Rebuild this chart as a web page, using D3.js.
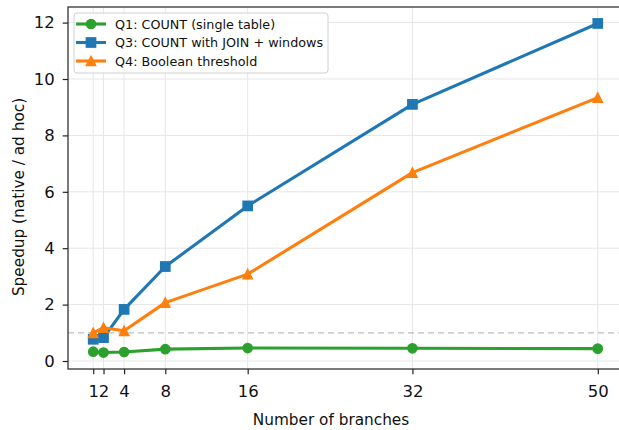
<!DOCTYPE html>
<html>
<head>
<meta charset="utf-8">
<script src="https://cdn.jsdelivr.net/npm/d3@7"></script>
<style>
  body { margin: 0; background: #fff; }
  svg { font-family: "DejaVu Sans", sans-serif; }
</style>
</head>
<body>
<div id="chart"></div>
<script>
// data
const branches = [1, 2, 4, 8, 16, 32, 50];
const q1Count = [0.33, 0.30, 0.32, 0.42, 0.46, 0.45, 0.44];
const q3Join = [0.77, 0.83, 1.83, 3.35, 5.50, 9.10, 11.97];
const q4Bool = [1.00, 1.18, 1.07, 2.07, 3.08, 6.68, 9.34];
const yTicks = [0, 2, 4, 6, 8, 10, 12];
const seriesNames = ["Q1: COUNT (single table)", "Q3: COUNT with JOIN + windows", "Q4: Boolean threshold"];

const W = 619, H = 430;
const margin = { top: 7, right: -4, bottom: 61, left: 68 };
const width = W - margin.left - margin.right,
      height = H - margin.top - margin.bottom;
const fontSize = "15.3px",
      tickFont = "16.5px";

const series = [
  { name: seriesNames[0], values: q1Count, color: "#2ca02c", marker: "circle" },
  { name: seriesNames[1], values: q3Join, color: "#1f77b4", marker: "square" },
  { name: seriesNames[2], values: q4Bool, color: "#ff7f0e", marker: "triangle" }
];

const svg = d3.select("#chart").append("svg")
    .attr("width", W)
    .attr("height", H);

const g = svg.append("g")
    .attr("transform", "translate(" + margin.left + "," + margin.top + ")");

// matplotlib-style 5% padding
const xr = d3.extent(branches), xpad = (xr[1] - xr[0]) * 0.05;
const allY = q1Count.concat(q3Join, q4Bool);
const yr = d3.extent(allY), ypad = (yr[1] - yr[0]) * 0.05;

const x = d3.scaleLinear()
    .domain([xr[0] - xpad, xr[1] + xpad])
    .range([0, width]);
const y = d3.scaleLinear()
    .domain([yr[0] - ypad, yr[1] + ypad])
    .range([height, 0]);

// grid
g.append("g").selectAll("line")
    .data(branches).enter().append("line")
    .attr("x1", d => x(d)).attr("x2", d => x(d))
    .attr("y1", 0).attr("y2", height)
    .attr("stroke", "#e6e6e6").attr("stroke-width", 1);
g.append("g").selectAll("line")
    .data(yTicks).enter().append("line")
    .attr("x1", 0).attr("x2", width)
    .attr("y1", d => y(d)).attr("y2", d => y(d))
    .attr("stroke", "#e6e6e6").attr("stroke-width", 1);

// reference line at speedup = 1
g.append("line")
    .attr("x1", 0).attr("x2", width)
    .attr("y1", y(1)).attr("y2", y(1))
    .attr("stroke", "#bdbdbd")
    .attr("stroke-width", 1.3)
    .attr("stroke-dasharray", "6,4");

// axes
const xAxis = g.append("g")
    .attr("transform", "translate(0," + height + ")")
    .call(d3.axisBottom(x).tickValues(branches).tickSize(5.3).tickPadding(10.5));
const yAxis = g.append("g")
    .call(d3.axisLeft(y).tickValues(yTicks).tickSize(5.3).tickPadding(8));

[xAxis, yAxis].forEach(a => {
  a.select(".domain").remove();
  a.selectAll(".tick line").attr("stroke", "#222").attr("stroke-width", 1.2);
  a.selectAll(".tick text")
      .attr("fill", "#111")
      .style("font-size", tickFont)
      .style("font-family", "DejaVu Sans");
});

// spines
g.append("rect")
    .attr("x", 0).attr("y", 0)
    .attr("width", width).attr("height", height)
    .attr("fill", "none")
    .attr("stroke", "#222")
    .attr("stroke-width", 1.2);

// lines + markers
const line = d3.line()
    .x((d, i) => x(branches[i]))
    .y(d => y(d));

function drawMarker(sel, type, color, ms) {
  const h = ms / 2;
  let m;
  if (type === "circle") {
    m = sel.append("circle").attr("r", h);
  } else if (type === "square") {
    m = sel.append("rect")
        .attr("x", -h).attr("y", -h)
        .attr("width", ms).attr("height", ms);
  } else {
    m = sel.append("path")
        .attr("d", "M0," + (-h) + "L" + h + "," + h + "L" + (-h) + "," + h + "Z");
  }
  m.attr("fill", color).attr("stroke", color).attr("stroke-width", 1.5)
      .attr("stroke-linejoin", "miter");
}

series.forEach(s => {
  const sg = g.append("g");
  sg.append("path")
      .datum(s.values)
      .attr("d", line)
      .attr("fill", "none")
      .attr("stroke", s.color)
      .attr("stroke-width", 3.1)
      .attr("stroke-linejoin", "round");
  sg.selectAll(".pt")
      .data(s.values).enter().append("g")
      .attr("class", "pt")
      .attr("transform", (d, i) => "translate(" + x(branches[i]) + "," + y(d) + ")")
      .each(function() { drawMarker(d3.select(this), s.marker, s.color, 9.2); });
});

// axis labels
svg.append("text")
    .attr("x", 331)
    .attr("y", 425)
    .attr("text-anchor", "middle")
    .style("font-size", fontSize)
    .attr("fill", "#111")
    .text("Number of branches");

svg.append("text")
    .attr("transform", "translate(24,197) rotate(-90)")
    .attr("text-anchor", "middle")
    .style("font-size", fontSize)
    .attr("fill", "#111")
    .text("Speedup (native / ad hoc)");

// legend
const legend = g.append("g").attr("transform", "translate(6,6)");
legend.append("rect")
    .attr("width", 254).attr("height", 60)
    .attr("rx", 3)
    .attr("fill", "#fff").attr("fill-opacity", 0.85)
    .attr("stroke", "#d0d0d0");
series.forEach((s, i) => {
  const row = legend.append("g").attr("transform", "translate(0," + (11 + i * 18.5) + ")");
  row.append("line")
      .attr("x1", 2).attr("x2", 32)
      .attr("stroke", s.color).attr("stroke-width", 3.1);
  const m = row.append("g").attr("transform", "translate(17,0)");
  drawMarker(m, s.marker, s.color, 9.2);
  row.append("text")
      .attr("x", 41).attr("y", 4.6)
      .style("font-size", "12.75px")
      .attr("fill", "#111")
      .text(s.name);
});
</script>
</body>
</html>
